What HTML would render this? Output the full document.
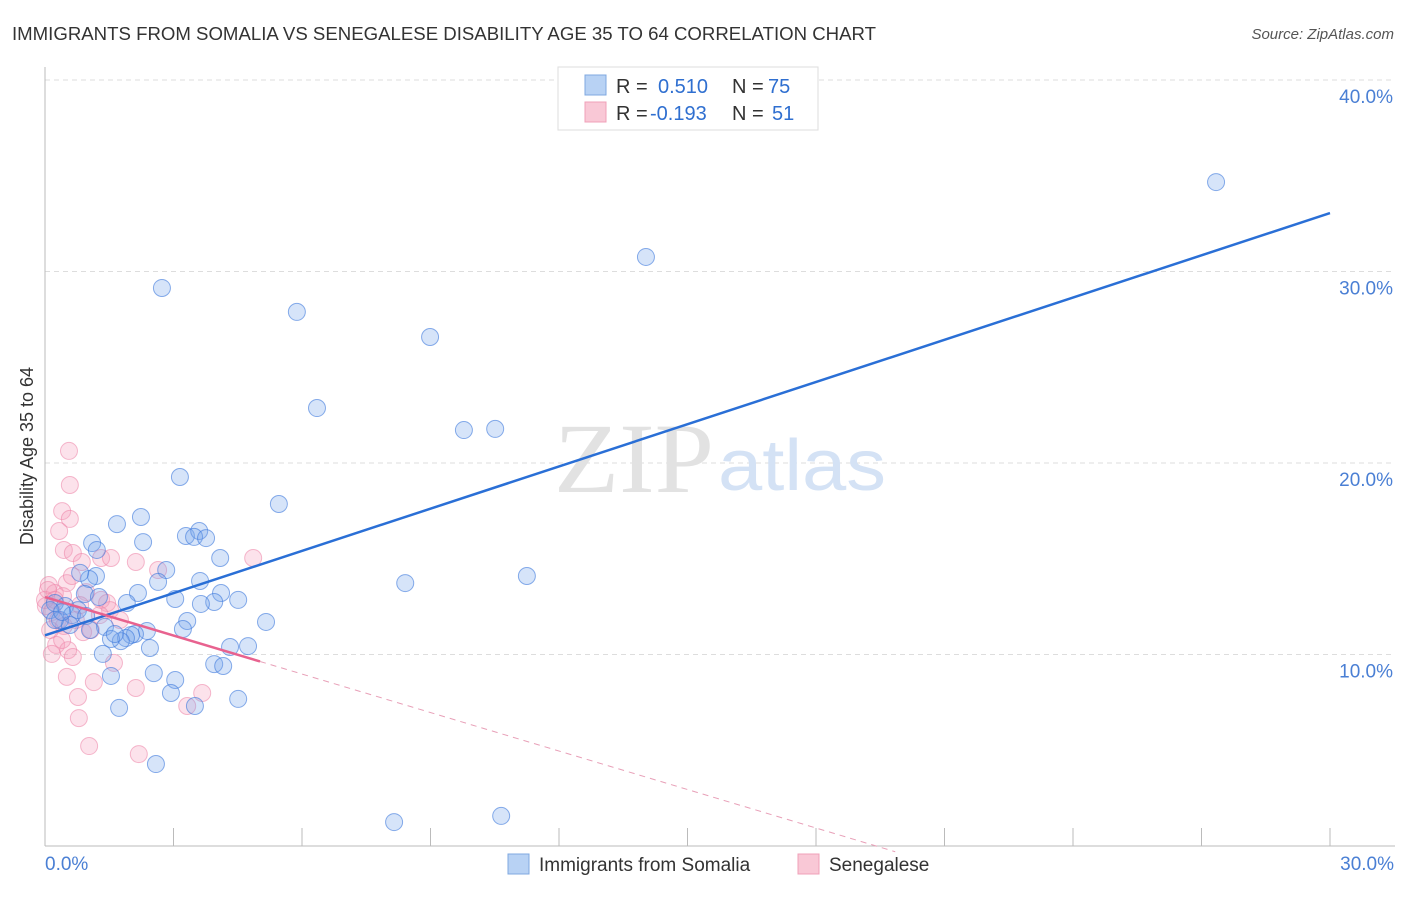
<!DOCTYPE html>
<html><head><meta charset="utf-8"><style>
body{margin:0;background:#fff;font-family:"Liberation Sans",sans-serif;}
</style></head><body>
<svg id="chart" width="1406" height="892" xmlns="http://www.w3.org/2000/svg">
<text x="12" y="40" font-size="18" fill="#333" textLength="864" lengthAdjust="spacingAndGlyphs">IMMIGRANTS FROM SOMALIA VS SENEGALESE DISABILITY AGE 35 TO 64 CORRELATION CHART</text>
<text x="1394" y="39" font-size="15" fill="#555" font-style="italic" text-anchor="end">Source: ZipAtlas.com</text>
<text transform="translate(33,456) rotate(-90)" font-size="18" fill="#333" text-anchor="middle">Disability Age 35 to 64</text>
<g id="grid"></g>
<text x="714" y="492" font-size="100" fill="#e2e2e2" text-anchor="end" font-family="Liberation Serif,serif" textLength="160" lengthAdjust="spacingAndGlyphs">ZIP</text>
<text x="718" y="490" font-size="72" fill="#d4e2f5" textLength="168" lengthAdjust="spacingAndGlyphs">atlas</text>
<g id="points"></g>
<g id="lines"></g>
<g>
<rect x="558" y="67" width="260" height="63" fill="#fff" stroke="#ddd"/>
<rect x="585" y="75" width="21" height="20" fill="#b8d2f4" stroke="#7fa8e0"/>
<rect x="585" y="102" width="21" height="20" fill="#f9c8d6" stroke="#f0a0b8"/>
<text x="616" y="93" font-size="20" fill="#333">R =</text>
<text x="658" y="93" font-size="20" fill="#2f6fd0">0.510</text>
<text x="732" y="93" font-size="20" fill="#333">N =</text>
<text x="768" y="93" font-size="20" fill="#2f6fd0">75</text>
<text x="616" y="120" font-size="20" fill="#333">R =</text>
<text x="650" y="120" font-size="20" fill="#2f6fd0">-0.193</text>
<text x="732" y="120" font-size="20" fill="#333">N =</text>
<text x="772" y="120" font-size="20" fill="#2f6fd0">51</text>
</g>
<g>
<rect x="508" y="854" width="21" height="20" fill="#b8d2f4" stroke="#7fa8e0"/>
<text x="539" y="871" font-size="19" fill="#333">Immigrants from Somalia</text>
<rect x="798" y="854" width="21" height="20" fill="#f9c8d6" stroke="#f0a0b8"/>
<text x="829" y="871" font-size="19" fill="#333">Senegalese</text>
</g>
</svg>
<script>
const blueX=[27.34,14.03,2.73,5.88,8.99,6.35,9.78,10.51,3.15,5.46,2.24,1.68,2.29,1.10,1.21,3.29,3.60,3.48,3.76,4.09,2.83,2.64,1.19,1.03,0.82,3.62,8.41,11.25,2.17,1.91,3.04,4.11,4.51,3.95,3.64,5.16,3.32,3.22,0.93,1.26,0.47,0.63,0.23,0.12,0.35,0.77,1.40,2.38,2.10,2.01,1.89,1.77,1.54,2.45,4.32,4.74,1.35,3.95,4.16,2.54,3.04,2.94,1.54,1.73,3.50,4.51,2.59,8.15,10.65,0.96,0.58,0.23,0.40,1.05,1.63];
const blueY=[34.67,30.76,29.14,27.89,26.58,22.87,21.72,21.78,19.27,17.86,17.18,16.81,15.87,15.82,15.46,16.19,16.45,16.14,16.08,15.04,14.41,13.79,14.10,13.94,14.26,13.84,13.73,14.10,13.21,12.69,12.90,13.21,12.85,12.74,12.64,11.70,11.75,11.33,13.16,13.00,12.53,12.06,12.69,12.32,11.80,12.32,11.44,11.23,11.07,11.02,10.86,10.70,10.81,10.34,10.39,10.44,10.03,9.50,9.40,9.03,8.67,7.99,8.88,7.21,7.31,7.68,4.28,1.25,1.57,12.01,11.54,11.80,12.22,11.28,11.07];
const pinkX=[0.56,0.58,0.40,0.58,0.33,0.44,0.65,1.31,0.86,1.54,2.12,2.64,0.51,0.63,0.09,0.23,0.42,0.96,1.31,1.45,0.02,0.16,0.30,0.44,0.72,0.89,1.07,0.26,0.54,0.16,0.65,1.61,0.51,1.14,2.12,3.67,0.77,3.32,0.79,1.03,2.19,4.86,1.52,0.12,0.40,0.0,0.07,1.28,1.75,0.82,0.23];
const pinkY=[20.63,18.85,17.49,17.08,16.45,15.46,15.30,15.04,14.83,15.04,14.83,14.41,13.73,14.10,13.63,13.21,13.05,13.26,12.85,12.69,12.53,12.22,11.80,11.49,11.80,11.17,11.28,10.50,10.23,10.03,9.87,9.56,8.83,8.56,8.25,7.99,7.78,7.31,6.68,5.22,4.80,15.04,12.32,11.28,10.76,12.85,13.37,12.06,11.80,12.58,12.85];
const blueTrend=[11.0,33.05];      // y at x=0 and x=30
const pinkTrend=[13.0,-0.67];      // intercept, slope
const pinkSolidEnd=5.02, pinkDashEnd=19.85;
const yTicks=[10,20,30,40];
const yTickLabels=["10.0%","20.0%","30.0%","40.0%"];
const xTickLabels=["0.0%","30.0%"];

const NS="http://www.w3.org/2000/svg";
const X=v=>45+v*42.833, Y=v=>846-v*19.15;
function mk(t,a,p){const e=document.createElementNS(NS,t);for(const k in a)e.setAttribute(k,a[k]);p.appendChild(e);return e;}
const grid=document.getElementById('grid');
yTicks.forEach((t,i)=>{
  const l=mk('line',{x1:45,x2:1395,y1:Y(t),y2:Y(t),stroke:'#ddd','stroke-dasharray':'5,4'},grid);
  
  
  const tx=mk('text',{x:1393,y:Y(t)+23,'font-size':19,fill:'#4a7fd4','text-anchor':'end'},grid);
  tx.textContent=yTickLabels[i];
  
  
});
const ax=mk('line',{x1:45,x2:45,y1:67,y2:846,stroke:'#bbb'},grid);


const bx=mk('line',{x1:45,x2:1395,y1:846,y2:846,stroke:'#bbb'},grid);


for(let i=1;i<=10;i++){
  const tk=mk('line',{x1:X(i*3),x2:X(i*3),y1:828,y2:846,stroke:'#bbb'},grid);
  
  
}
[[0,'start',45],[30,'end',1394]].forEach((d,i)=>{
  const t=mk('text',{x:d[2],y:870,'font-size':19,fill:'#4a7fd4','text-anchor':d[1]},grid);
  t.textContent=xTickLabels[i];
  
  
});
const pts=document.getElementById('points');
pinkX.forEach((x,i)=>{
  const c=mk('circle',{cx:X(x),cy:Y(pinkY[i]),r:8.5,fill:'rgba(244,160,188,0.3)',stroke:'rgba(236,130,165,0.55)','stroke-width':1},pts);
  
  
});
blueX.forEach((x,i)=>{
  const c=mk('circle',{cx:X(x),cy:Y(blueY[i]),r:8.5,fill:'rgba(120,165,235,0.3)',stroke:'rgba(60,120,220,0.6)','stroke-width':1},pts);
  
  
});
const ln=document.getElementById('lines');
const bl=mk('line',{x1:X(0),y1:Y(blueTrend[0]),x2:X(30),y2:Y(blueTrend[1]),stroke:'#2a6fd6','stroke-width':2.5},ln);


const pf=x=>pinkTrend[0]+pinkTrend[1]*x;
const ps=mk('line',{x1:X(0),y1:Y(pf(0)),x2:X(pinkSolidEnd),y2:Y(pf(pinkSolidEnd)),stroke:'#e8628f','stroke-width':2.5},ln);


const pd=mk('line',{x1:X(pinkSolidEnd),y1:Y(pf(pinkSolidEnd)),x2:X(pinkDashEnd),y2:Y(pf(pinkDashEnd)),stroke:'#e8a0b8','stroke-width':1,'stroke-dasharray':'6,5'},ln);


</script>
</body></html>
